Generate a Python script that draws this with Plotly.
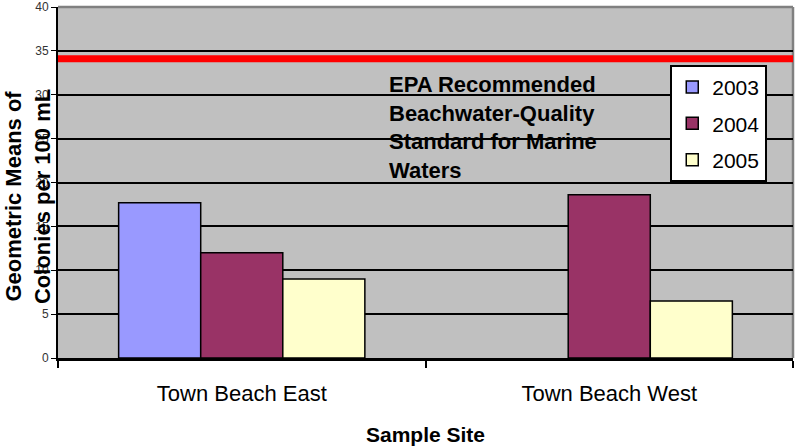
import plotly.graph_objects as go

# Data
sites = ["Town Beach East", "Town Beach West"]
years = ["2003", "2004", "2005"]
vals_2003 = [17.7, None]
vals_2004 = [12.0, 18.6]
vals_2005 = [9.0, 6.5]
epa_standard = 34.1

colors = {"2003": "#9999FF", "2004": "#993366", "2005": "#FFFFCC"}
series = {"2003": vals_2003, "2004": vals_2004, "2005": vals_2005}

FONT = "Arial, Liberation Sans, sans-serif"

fig = go.Figure()
for yr in years:
    fig.add_trace(go.Bar(
        x=sites, y=series[yr], name=yr, legendgroup=yr,
        marker=dict(color=colors[yr], line=dict(color="black", width=1.5)),
    ))

# EPA threshold line
fig.add_shape(type="line", xref="x domain", yref="y",
              x0=0, x1=1, y0=epa_standard, y1=epa_standard,
              line=dict(color="#FF0000", width=7), layer="above")

fig.add_annotation(
    xref="paper", yref="paper", x=0.4476, y=0.82, xanchor="left", yanchor="top",
    text="EPA Recommended<br>Beachwater-Quality<br>Standard for Marine<br>Waters",
    showarrow=False, align="left",
    font=dict(family=FONT, size=22, color="black", weight="bold"),
)

# y title sits over the tick labels, as in the original
fig.add_annotation(
    xref="paper", yref="paper", x=-0.0415, y=0.46, xanchor="center", yanchor="middle",
    text="Geometric Means of<br>Colonies per 100 mL", textangle=-90,
    showarrow=False,
    font=dict(family=FONT, size=22, color="black", weight="bold"),
)

fig.update_layout(
    width=796, height=446,
    margin=dict(l=58, r=3, t=7, b=88),
    paper_bgcolor="white",
    plot_bgcolor="#C0C0C0",
    barmode="group",
    bargap=0.33,
    bargroupgap=0,
    font=dict(family=FONT, color="black"),
    showlegend=True,
    legend=dict(
        x=0.833, y=0.835, xanchor="left", yanchor="top",
        bgcolor="white", bordercolor="black", borderwidth=2,
        font=dict(size=21), tracegroupgap=6,
    ),
    xaxis=dict(
        automargin=False,
        showline=True, linecolor="black", linewidth=3,
        tickson="boundaries", ticks="outside", ticklen=7, tickwidth=2, tickcolor="black",
        ticklabelstandoff=14,
        tickfont=dict(size=22),
        title=dict(text="Sample Site", font=dict(size=21, weight="bold"), standoff=28),
    ),
    yaxis=dict(
        automargin=False,
        range=[0, 40], dtick=5,
        showgrid=True, gridcolor="black", gridwidth=1.5,
        showline=True, linecolor="black", linewidth=2,
        ticks="outside", ticklen=5, tickcolor="black",
        tickfont=dict(size=12, color="#333333"),
        zeroline=False,
    ),
)

# gray top/right border of the plot area
fig.add_shape(type="line", xref="paper", yref="paper", x0=0, x1=1, y0=1, y1=1,
              line=dict(color="#808080", width=2.5), layer="below")
fig.add_shape(type="line", xref="paper", yref="paper", x0=1, x1=1, y0=0, y1=1,
              line=dict(color="#808080", width=2.5), layer="below")

# drop the default 8px body margin so the figure fills the window
fig.write_html("out.html", config={"displayModeBar": False},
               post_script="document.body.style.margin='0';")
